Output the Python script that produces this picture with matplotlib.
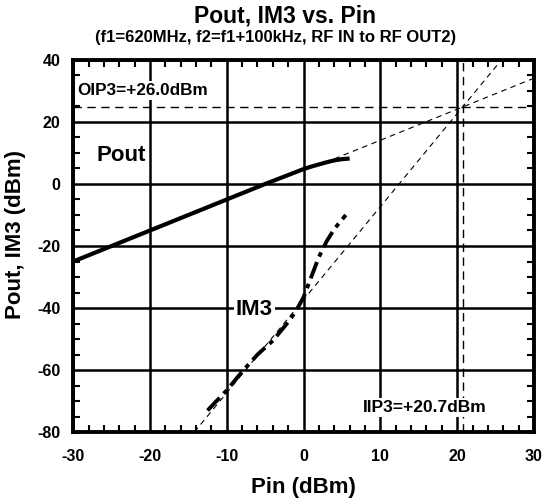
import matplotlib
matplotlib.use("Agg")
import matplotlib.pyplot as plt
import numpy as np

plt.rcParams['font.family'] = ['Liberation Sans', 'DejaVu Sans']
plt.rcParams['font.weight'] = 'bold'
plt.rcParams['axes.unicode_minus'] = False

# Data
pout_pin = [-30, -20, -10, -5, 0, 1, 2, 3, 4, 5, 6]
pout_val = [-25, -15, -5, 0, 4.8, 5.6, 6.3, 7.0, 7.6, 8.0, 8.2]

im3_pin = [-12.5, -10, -8, -6, -4, -2, -1, 0, 1, 2, 3, 4, 5, 5.5]
im3_val = [-73, -66.5, -60.5, -55, -50.5, -44.5, -41, -36.5, -30, -23.5, -18.5, -14.5, -11.5, -10]

iip3 = 20.7          # dashed vertical marker (dBm)
oip3_line = 24.8     # dashed horizontal marker as drawn (dBm)

xticks = [-30, -20, -10, 0, 10, 20, 30]
yticks = [-80, -60, -40, -20, 0, 20, 40]

fig = plt.figure(figsize=(5.46, 4.99), dpi=100)
ax = fig.add_axes([0.134, 0.134, 0.844, 0.746])

ax.set_xlim(-30, 30)
ax.set_ylim(-80, 40)
ax.set_xticks(xticks)
ax.set_yticks(yticks)
ax.set_xticks(np.arange(-30, 31, 2), minor=True)
ax.set_yticks(np.arange(-80, 41, 5), minor=True)
ax.grid(True, which='major', color='black', linewidth=1.8, zorder=1)
ax.tick_params(which='both', direction='in', top=True, right=True, labelsize=11.5, width=1.5)
ax.tick_params(which='major', length=0)
ax.tick_params(axis='x', which='major', pad=12)
ax.tick_params(axis='y', which='major', pad=9)
ax.tick_params(which='minor', length=5)
for lab in ax.get_xticklabels() + ax.get_yticklabels():
    lab.set_fontweight('bold')
for s in ax.spines.values():
    s.set_linewidth(2.8)
    s.set_zorder(5)

# extrapolation lines
xe = np.array([4, 30])
ax.plot(xe, xe - iip3 + oip3_line, color='black', linestyle=(0, (5, 4)), linewidth=0.8, zorder=2)
xe3 = np.array([(-80 - oip3_line) / 3 + iip3, (40 - oip3_line) / 3 + iip3])
ax.plot(xe3, 3 * (xe3 - iip3) + oip3_line, color='black', linestyle=(0, (5, 4)), linewidth=0.8, zorder=2)
ax.axhline(oip3_line, color='black', linestyle=(0, (6, 4)), linewidth=1.0, zorder=2)
ax.axvline(iip3, color='black', linestyle=(0, (6, 4)), linewidth=1.0, zorder=2)

# measured curves
ax.plot(pout_pin, pout_val, color='black', linewidth=3.0, zorder=3, solid_capstyle='butt')
ax.plot(im3_pin, im3_val, color='black', linewidth=2.8, linestyle=(0, (4.5, 1.5, 1.2, 1.5)), zorder=3)

bb = dict(facecolor='white', edgecolor='none', pad=1.5)
ax.text(-29.5, 30, 'OIP3=+26.0dBm', fontsize=12.3, fontweight='bold', va='center', ha='left', bbox=bb, zorder=4)
ax.text(-27, 9.1, 'Pout', fontsize=16, fontweight='bold', va='center', ha='left', zorder=4)
ax.text(-6.4, -40.6, 'IM3', fontsize=16, fontweight='bold', va='center', ha='center', bbox=bb, zorder=4)
ax.text(15.8, -72.1, 'IIP3=+20.7dBm', fontsize=12.5, fontweight='bold', va='center', ha='center', bbox=bb, zorder=4)

ax.set_xlabel('Pin (dBm)', fontsize=16, fontweight='bold', va='baseline')
ax.xaxis.set_label_coords(0.5, -0.164)
ax.set_ylabel('Pout, IM3 (dBm)', fontsize=16, fontweight='bold', va='center')
ax.yaxis.set_label_coords(-0.126, 0.53)

fig.text(0.522, 1 - 23 / 499, 'Pout, IM3 vs. Pin', fontsize=16.5, fontweight='bold', ha='center', va='baseline')
fig.text(0.504, 1 - 42 / 499, '(f1=620MHz, f2=f1+100kHz, RF IN to RF OUT2)', fontsize=12, fontweight='bold', ha='center', va='baseline')

fig.savefig('out.png', dpi=100)
